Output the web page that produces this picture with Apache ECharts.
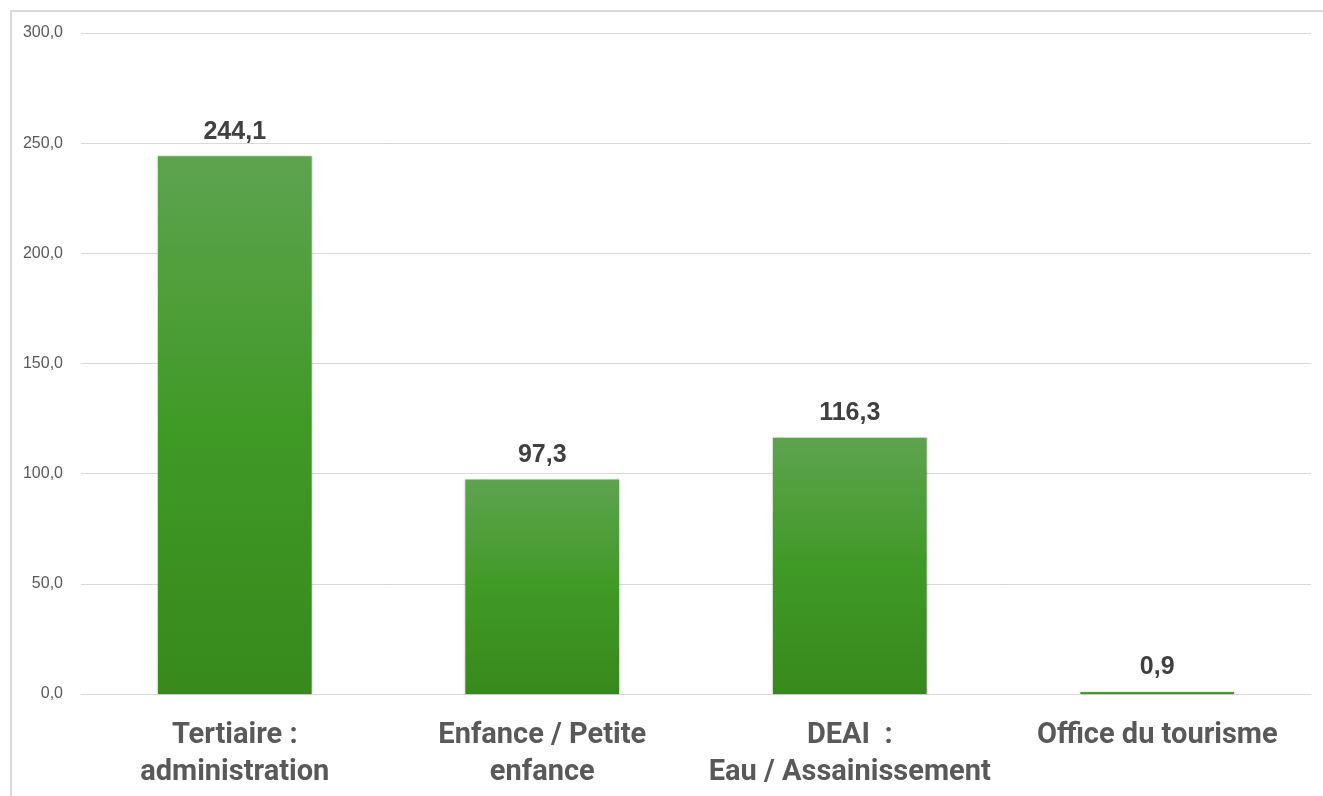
<!DOCTYPE html>
<html>
<head>
<meta charset="utf-8">
<script src="https://cdn.jsdelivr.net/npm/echarts@6/dist/echarts.min.js"></script>
<style>
  html, body { margin: 0; padding: 0; background: #fff; overflow: hidden; }
  #frame { position: absolute; left: 10px; top: 10px; width: 1340px; height: 820px; border: 2px solid #d9d9d9; box-sizing: border-box; }
  #chart { position: absolute; left: 0; top: 0; width: 1323px; height: 796px; }
</style>
</head>
<body>
<div id="frame"></div>
<div id="chart"></div>
<script>
const categories = ['Tertiaire :\nadministration', 'Enfance / Petite\nenfance', 'DEAI  :\nEau / Assainissement', 'Office du tourisme'];
const values = [244.1, 97.3, 116.3, 0.9];
const yTicks = [0, 50, 100, 150, 200, 250, 300];

const fmt = v => v.toFixed(1).replace('.', ',');

const chart = echarts.init(document.getElementById('chart'));

chart.setOption({
  animation: false,
  grid: { left: 81, right: 12, top: 33, bottom: 102 },
  xAxis: {
    type: 'category',
    data: categories,
    axisLine: { show: true, lineStyle: { color: '#d9d9d9', width: 1 } },
    axisTick: { show: false },
    axisLabel: {
      color: '#595959',
      fontFamily: 'Roboto',
      fontWeight: 'bold',
      fontSize: 29,
      lineHeight: 37,
      margin: 23,
      interval: 0
    }
  },
  yAxis: {
    type: 'value',
    min: yTicks[0],
    max: yTicks[yTicks.length - 1],
    interval: 50,
    axisLine: { show: false },
    axisTick: { show: false },
    splitLine: { lineStyle: { color: '#d9d9d9', width: 1 } },
    axisLabel: {
      color: '#595959',
      fontFamily: 'Liberation Sans',
      fontSize: 16,
      margin: 18,
      formatter: v => fmt(v)
    }
  },
  series: [{
    type: 'bar',
    data: values,
    barWidth: '50%',
    itemStyle: {
      color: new echarts.graphic.LinearGradient(0, 0, 0, 1, [
        { offset: 0, color: '#5ea34f' },
        { offset: 0.5, color: '#409a26' },
        { offset: 1, color: '#37891c' }
      ]),
      shadowColor: 'rgba(0,0,0,0.25)',
      shadowBlur: 2,
      shadowOffsetX: 0,
      shadowOffsetY: 0
    },
    label: {
      show: true,
      position: 'top',
      distance: 12,
      color: '#404040',
      fontFamily: 'Liberation Sans',
      fontWeight: 'bold',
      fontSize: 25,
      formatter: p => fmt(p.value)
    }
  }]
});
</script>
</body>
</html>
